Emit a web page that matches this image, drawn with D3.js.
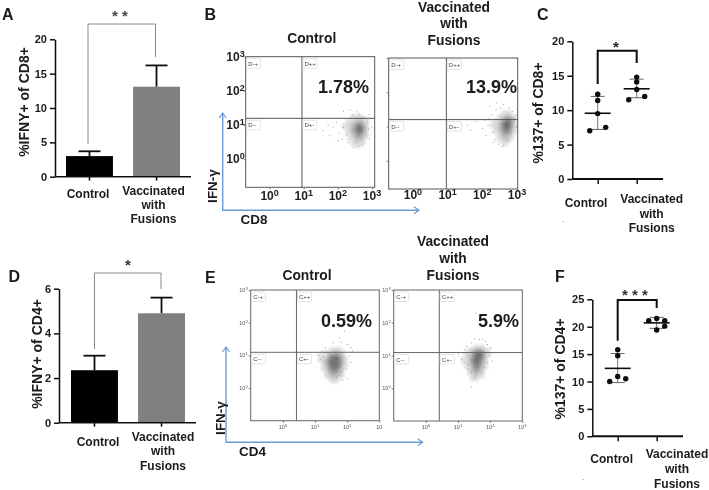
<!DOCTYPE html>
<html><head><meta charset="utf-8">
<script src="https://cdn.jsdelivr.net/npm/d3@7/dist/d3.min.js"></script>
<style>
html,body{margin:0;padding:0;background:#fff}
svg{display:block}
text{font-family:"Liberation Sans",Arial,sans-serif;fill:#1a1a1a}
</style></head><body><svg id="c" width="709" height="490"></svg>
<script>
// ---------- data ----------
const categories = ["Control", "Vaccinated with Fusions"];

const barMeansA = [3.0, 13.1];
const barUpperA = [3.7, 16.2];
const barMeansD = [2.35, 4.9];
const barUpperD = [3.0, 5.6];

const ticksA = [0, 5, 10, 15, 20];
const ticksD = [0, 2, 4, 6];
const ticksC = [0, 5, 10, 15, 20];
const ticksF = [0, 5, 10, 15, 20, 25];

const pointsCControl = [7.0, 7.5, 9.5, 11.4, 12.3];
const pointsCVaccine = [11.5, 12.0, 13.0, 14.1, 14.8];
const pointsFControl = [10.0, 10.9, 10.5, 14.7, 15.8];
const pointsFVaccine = [21.1, 21.5, 21.1, 20.1, 19.4];
const slotsC = [-3, 3, 0, 0, 0];
const slotsF = [-3, 0, 3, 0, 0];
const slotsFV = [-3, 0, 3, 3, 0];

const summaryC = {mean: [9.55, 13.1], low: [7.2, 11.8], high: [12.0, 14.5]};
const summaryF = {mean: [12.4, 20.7], low: [9.8, 19.7], high: [15.1, 21.7]};

const flowTicks = [1, 10, 100, 1000];

// density of events per log-spaced cell (0-9), top row first
const cloudB1 = ["0001111000","0011222110","0112344210","1123576310","1124698420","0124698410","0113576310","0012454210","0011333100","0001221100","0000111000"];
const cloudB2 = ["0000111000","0001122100","0012355310","0113577410","1124798410","1124798410","0124686310","0113565210","0012443100","0011332100","0001121000","0000110000"];
const cloudE1 = ["00001111000","00112332100","11135664200","11258996310","12369997310","01369997310","01258996210","01247874200","00135653100","00123432100","00012221000","00001110000"];
const cloudE2 = ["00001111000","00123443110","01136885210","01247996210","11258985200","11258974200","01247863100","01136752100","00135532000","00123321000","00012211000","00011100000"];

// stray events: [log10 x, log10 y]
const straysB1 = [[1.55,0.85],[1.7,1.02],[1.85,0.95],[1.95,1.1],[2.02,0.78],[2.0,0.55],[2.15,1.42],[2.35,1.45],[2.55,1.4],[2.9,1.32],[2.98,0.95],[2.9,0.6],[2.45,0.36],[1.3,1.12],[1.75,0.7],
  [2.2,1.2],[2.25,0.7],[2.3,0.5],[2.4,0.42],[2.6,0.38],[2.7,0.45],[2.8,0.75],[2.85,1.1],[2.75,1.25],[2.15,0.95],[2.12,0.6],[2.4,1.3],[2.62,1.33],[2.88,0.9]];
const straysB2 = [[1.55,1.05],[1.8,1.15],[2.0,0.95],[2.05,1.2],[2.1,0.75],[2.2,1.6],[2.4,1.7],[2.6,1.65],[2.95,1.35],[2.97,1.0],[2.3,0.55],[2.6,0.45],[1.65,0.9],[2.75,1.55],
  [2.25,1.35],[2.28,0.85],[2.35,0.62],[2.45,0.5],[2.7,0.6],[2.82,0.8],[2.9,1.15],[2.85,1.45],[2.5,1.55],[2.15,1.05],[2.18,1.25],[2.55,0.42],[2.92,1.25],[2.38,1.5]];
const straysE1 = [[1.9,2.3],[1.9,2.15],[1.9,1.75],[1.1,1.02],[1.25,0.98],[1.4,1.1],[1.5,0.9],[2.0,0.3],[1.75,0.4],[1.85,0.25],[2.15,1.15],[1.3,0.8],[1.75,1.55],[2.1,0.8],
  [1.2,1.15],[1.3,1.25],[1.35,0.7],[1.45,0.55],[1.55,0.45],[1.65,0.35],[1.8,0.5],[1.95,0.6],[2.05,1.0],[2.1,1.25],[2.0,1.35],[1.55,1.4],[1.8,1.42],[1.15,0.9]];
const straysE2 = [[1.55,2.3],[1.0,1.05],[1.1,0.9],[1.2,1.2],[1.3,0.75],[1.4,1.4],[1.9,1.35],[2.0,1.1],[2.05,0.85],[1.4,0.05],[1.6,0.55],[1.5,0.35],[1.75,1.5],[1.95,1.0],
  [1.15,1.1],[1.25,1.3],[1.3,0.6],[1.4,0.5],[1.55,0.42],[1.7,0.5],[1.8,0.65],[1.9,0.8],[2.0,1.25],[1.65,1.5],[1.5,1.52],[1.3,1.0],[1.85,1.45],[1.18,0.8]];

// ---------- drawing ----------
const svg = d3.select("#c");
const defs = svg.append("defs");
defs.append("filter").attr("id","soft").attr("x","-20%").attr("y","-20%").attr("width","140%").attr("height","140%")
  .append("feGaussianBlur").attr("stdDeviation",1.3);
defs.append("filter").attr("id","page").append("feGaussianBlur").attr("stdDeviation",0.35);
const root = svg.append("g").attr("filter","url(#page)");
const BLUE = "#6b9bd6";

function txt(x, y, s, size, opt={}) {
  return root.append("text").attr("x",x).attr("y",y).text(s)
    .attr("font-size",size).attr("font-weight",opt.w||"bold")
    .attr("text-anchor",opt.a||"middle").style("fill",opt.fill||"#1a1a1a");
}
function rotTxt(x, y, s, size) {
  return root.append("text").attr("transform",`translate(${x},${y}) rotate(-90)`).text(s)
    .attr("font-size",size).attr("font-weight","bold").attr("text-anchor","middle");
}
function seg(x1,y1,x2,y2,col,w){
  return root.append("line").attr("x1",x1).attr("y1",y1).attr("x2",x2).attr("y2",y2)
    .attr("stroke",col).attr("stroke-width",w);
}
function bracket(x1,x2,top,yl,yr,col,w){
  root.append("path").attr("d",`M${x1},${yl}V${top}H${x2}V${yr}`).attr("fill","none")
    .attr("stroke",col).attr("stroke-width",w);
}
function yAxis(y, x, ticks, size){
  const g = root.append("g").attr("transform",`translate(${x},0)`)
    .call(d3.axisLeft(y).tickValues(ticks).tickFormat(d3.format("d")).tickSize(5).tickSizeOuter(0));
  g.selectAll("path,line").attr("stroke","#111").attr("stroke-width",1.5);
  g.selectAll("text").attr("font-size",size).attr("font-weight","bold")
    .style("font-family",'"Liberation Sans",Arial,sans-serif').style("fill","#1a1a1a");
}
function catLabels(xc, xv, yc, yv, lh){
  txt(xc, yc, "Control", 12);
  categories[1].split(" ").forEach((w,i)=>txt(xv, yv+i*lh, w, 12));
}

function barPanel(o){
  const y = d3.scaleLinear().domain(o.dom).range([o.y0,o.y1]);
  const x = d3.scaleBand().domain(categories).range(o.xr).paddingInner(0.3).paddingOuter(0);
  const fills = ["#000000","#808080"];
  categories.forEach((c,i)=>{
    const cx = x(c)+x.bandwidth()/2;
    seg(cx,y(o.means[i]),cx,y(o.upper[i]),"#111",1.8);
    seg(cx-11,y(o.upper[i]),cx+11,y(o.upper[i]),"#111",1.8);
  });
  root.append("g").selectAll("rect").data(o.means).join("rect")
    .attr("x",(d,i)=>x(categories[i])).attr("width",x.bandwidth())
    .attr("y",d=>y(d)).attr("height",d=>y(0)-y(d)).attr("fill",(d,i)=>fills[i]);
  yAxis(y,o.ax,o.ticks,11);
  seg(o.ax,y(0),o.end,y(0),"#111",1.5);
  const xa = root.append("g").attr("transform",`translate(0,${y(0)})`)
    .call(d3.axisBottom(x).tickSize(4).tickSizeOuter(0).tickFormat(""));
  xa.select("path").remove();
  xa.selectAll("line").attr("stroke","#111").attr("stroke-width",1.5);
}

function dotPanel(o){
  const y = d3.scaleLinear().domain(o.dom).range([o.y0,o.y1]);
  const x = d3.scalePoint().domain(categories).range(o.xr);
  const slot = d3.scaleLinear().domain([-3,3]).range([-8,8]);
  yAxis(y,o.ax,o.ticks,11);
  seg(o.ax,y(0),o.end,y(0),"#111",2);
  const xa = root.append("g").attr("transform",`translate(0,${y(0)})`)
    .call(d3.axisBottom(x).tickSize(5).tickSizeOuter(0).tickFormat(""));
  xa.select("path").remove();
  xa.selectAll("line").attr("stroke","#111").attr("stroke-width",1.5);
  categories.forEach((c,i)=>{
    const cx = x(c), s = o.sum;
    seg(cx,y(s.low[i]),cx,y(s.high[i]),"#777",1);
    seg(cx-7,y(s.low[i]),cx+7,y(s.low[i]),"#666",1);
    seg(cx-7,y(s.high[i]),cx+7,y(s.high[i]),"#666",1);
    seg(cx-13,y(s.mean[i]),cx+13,y(s.mean[i]),"#111",1.6);
    root.append("g").selectAll("circle").data(o.pts[i]).join("circle")
      .attr("cx",(d,j)=>cx+slot(o.slots[i][j])).attr("cy",d=>y(d)).attr("r",2.7).attr("fill","#0a0a0a");
  });
}

function flowPanel(o){
  const x = d3.scaleLog().domain(o.xd).range(o.xr);
  const y = d3.scaleLog().domain(o.yd).range(o.yr);
  const [l,r] = o.xr, [b,t] = o.yr;
  const cells = [];
  o.cloud.cloud.forEach((row,ri)=>row.split("").forEach((v,ci)=>{ if(+v>0) cells.push({ri,ci,v:+v}); }));
  const step = o.cloud.step;
  root.append("g").attr("filter","url(#soft)").selectAll("rect").data(cells).join("rect")
    .attr("x",d=>x(Math.pow(10,o.cloud.lx+d.ci*step)))
    .attr("y",d=>y(Math.pow(10,o.cloud.ly-d.ri*step)))
    .attr("width",d=>x(Math.pow(10,o.cloud.lx+(d.ci+1)*step))-x(Math.pow(10,o.cloud.lx+d.ci*step)))
    .attr("height",d=>y(Math.pow(10,o.cloud.ly-(d.ri+1)*step))-y(Math.pow(10,o.cloud.ly-d.ri*step)))
    .attr("fill","#666").attr("opacity",d=>0.1+0.9*d.v/9);
  root.append("g").selectAll("rect").data(o.strays).join("rect")
    .attr("x",d=>x(Math.pow(10,d[0]))).attr("y",d=>y(Math.pow(10,d[1])))
    .attr("width",1).attr("height",1).attr("fill","#999");
  const gx = x(o.gate[0]), gy = y(o.gate[1]);
  root.append("rect").attr("x",l).attr("y",t).attr("width",r-l).attr("height",b-t)
    .attr("fill","none").attr("stroke",o.frame).attr("stroke-width",1);
  seg(gx,t,gx,b,o.frame,1); seg(l,gy,r,gy,o.frame,1);
  const tag = (tx,ty,s)=>{
    root.append("rect").attr("x",tx).attr("y",ty).attr("width",14).attr("height",9.5)
      .attr("fill","#fff").attr("stroke","#ddd").attr("stroke-width",0.8).attr("rx",1);
    txt(tx+1.5,ty+7,s,6,{a:"start",w:"normal",fill:"#444"});
  };
  const p = o.tag;
  tag(l+1,t+2,p+"-+"); tag(gx+1,t+2,p+"++"); tag(l+1,gy+2,p+"--"); tag(gx+1,gy+2,p+"+-");
  const sup = n=>Math.round(Math.log10(n));
  const xa = root.append("g").attr("transform",`translate(0,${b})`)
    .call(d3.axisBottom(x).tickValues(flowTicks).tickSize(2).tickSizeOuter(0).tickFormat(""));
  xa.select("path").remove(); xa.selectAll("line").attr("stroke","#777");
  const ya = root.append("g").attr("transform",`translate(${l},0)`)
    .call(d3.axisLeft(y).tickValues(flowTicks).tickSize(2).tickSizeOuter(0).tickFormat(""));
  ya.select("path").remove(); ya.selectAll("line").attr("stroke","#777");
  const tickText = (px,py,n,anchor,noSup)=>{
    const te = root.append("text").attr("x",px).attr("y",py).attr("text-anchor",anchor)
      .attr("font-size",o.fs).attr("font-weight",o.fw).style("fill",o.tc);
    te.append("tspan").text("10");
    if(!noSup) te.append("tspan").text(sup(n)).attr("dy",-o.fs*0.35).attr("font-size",o.fs*0.75);
  };
  flowTicks.forEach(n=>{
    tickText(x(n),b+o.xLabelDy,n,"middle",o.clipLast && n===1000);
  });
  if(o.yLabels) flowTicks.forEach(n=>tickText(l-o.yLabelDx,y(n)+o.yShift,n,"end"));
}

// Panel A
barPanel({dom:[0,20],y0:176.7,y1:39.3,xr:[66,180],means:barMeansA,upper:barUpperA,ticks:ticksA,ax:55,end:191});
rotTxt(29,102,"%IFNY+ of CD8+",14);
catLabels(88,153.5,198,195,14);
bracket(88,155.5,24,144,57,"#8a8a8a",1);
txt(120,21,"* *",15,{fill:"#444"});
txt(2,20,"A",16,{a:"start"});

// Panel D
barPanel({dom:[0,6],y0:422.7,y1:288.7,xr:[71,185],means:barMeansD,upper:barUpperD,ticks:ticksD,ax:59,end:196});
rotTxt(42,354,"%IFNY+ of CD4+",14);
catLabels(98,163,445.7,440.7,14.6);
bracket(94.5,161,273,349,289,"#8a8a8a",1);
txt(128,270,"*",15,{fill:"#333"});
txt(8.5,282,"D",16,{a:"start"});

// Panel C
dotPanel({dom:[0,20],y0:179,y1:41.3,xr:[597.7,636.7],ax:572.3,end:663,ticks:ticksC,sum:summaryC,
  pts:[pointsCControl,pointsCVaccine],slots:[slotsC,slotsC]});
rotTxt(543,113,"%137+ of CD8+",14);
catLabels(586,651.7,207,203,14.5);
bracket(597.7,636.7,50.7,84,63,"#111",2);
txt(616,52,"*",15,{fill:"#222"});
txt(537,20,"C",16,{a:"start"});
txt(563,222,".",8,{w:"normal",fill:"#555"});

// Panel F
dotPanel({dom:[0,25],y0:436.3,y1:299.3,xr:[617.7,656.7],ax:592.3,end:683,ticks:ticksF,sum:summaryF,
  pts:[pointsFControl,pointsFVaccine],slots:[slotsF,slotsFV]});
rotTxt(565,369,"%137+ of CD4+",14);
catLabels(611.7,677,463,458,15);
bracket(617.7,656.7,300,340.7,308,"#111",2);
txt(635,300,"* * *",15,{fill:"#333"});
txt(555,282,"F",16,{a:"start"});
txt(583,480,".",8,{w:"normal",fill:"#555"});

// Panel B
const bStyle = {fs:12,fw:"bold",tc:"#222",frame:"#555",tag:"D",xLabelDy:13};
flowPanel({...bStyle,xd:[0.2,1200],yd:[0.15,1000],xr:[245.7,374.7],yr:[187.3,56.7],gate:[8.9,15.7],
  cloud:{cloud:cloudB1,lx:2.12,ly:1.316,step:0.088},strays:straysB1,yLabels:true,yLabelDx:1,yShift:4});
flowPanel({...bStyle,xd:[0.2,1050],yd:[0.15,1000],xr:[388.7,517.7],yr:[189,58],gate:[9.2,15.9],
  cloud:{cloud:cloudB2,lx:2.22,ly:1.478,step:0.087},strays:straysB2,yLabels:false,xLabelDy:10});
txt(311.7,42.5,"Control",13.8);
categories[1].split(" ").forEach((w,i)=>txt(454,11.7+i*16.7,w,13.8));
txt(369,93,"1.78%",18,{a:"end"});
txt(517,93,"13.9%",18,{a:"end"});
txt(204.5,20,"B",16,{a:"start"});

// Panel E
const eStyle = {fs:5.5,fw:"normal",tc:"#555",frame:"#666",tag:"C",xLabelDy:8,xd:[0.1,1000],yd:[0.1,1000]};
flowPanel({...eStyle,xr:[250.7,379.3],yr:[420.7,290],gate:[2.65,12.4],
  cloud:{cloud:cloudE1,lx:1.09,ly:1.254,step:0.0925},strays:straysE1,yLabels:true,yLabelDx:3,yShift:2,clipLast:true});
flowPanel({...eStyle,xr:[393.7,522.3],yr:[421,290],gate:[2.62,12.3],
  cloud:{cloud:cloudE2,lx:1.093,ly:1.323,step:0.0925},strays:straysE2,yLabels:true,yLabelDx:3,yShift:2});
txt(307,280,"Control",13.8);
categories[1].split(" ").forEach((w,i)=>txt(453,246+i*17,w,13.8));
txt(372,327,"0.59%",18,{a:"end"});
txt(519,327,"5.9%",18,{a:"end"});
txt(205,282.5,"E",16,{a:"start"});

// Blue axis arrows
function arrows(xa,top,ybot,xr,col){
  root.append("path").attr("d",`M${xa},${top}V${ybot}H${xr}`).attr("fill","none").attr("stroke",col).attr("stroke-width",1.4);
  root.append("path").attr("d",`M${xa-3.5},${top+5}L${xa},${top}L${xa+3.5},${top+5}M${xr-5},${ybot-3.5}L${xr},${ybot}L${xr-5},${ybot+3.5}`)
    .attr("fill","none").attr("stroke",col).attr("stroke-width",1.2);
}
arrows(222.7,113,210.3,419,BLUE);
arrows(226,347,442.3,422.7,BLUE);
rotTxt(217,186,"IFN-γ",13.5);
txt(254,224,"CD8",13.5);
rotTxt(225,418,"IFN-γ",13.5);
txt(252.5,456,"CD4",13.5);
</script></body></html>
